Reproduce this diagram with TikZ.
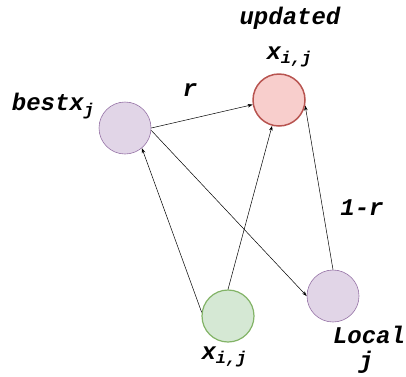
\documentclass[tikz,border=0pt]{standalone}
\usepackage{fontspec}
\setmonofont{Liberation Mono}
\usetikzlibrary{arrows.meta}
\definecolor{pfill}{HTML}{E1D5E7}
\definecolor{pdraw}{HTML}{9673A6}
\definecolor{rfill}{HTML}{F8CECC}
\definecolor{rdraw}{HTML}{B85450}
\definecolor{gfill}{HTML}{D5E8D4}
\definecolor{gdraw}{HTML}{82B366}
\newcommand{\lbl}{\fontsize{24}{27}\selectfont\ttfamily\bfseries\itshape}
\newcommand{\sbs}[1]{\raisebox{-0.35ex}{\fontsize{17}{20}\selectfont #1}}
\tikzset{
  circ/.style={circle, minimum size=52pt, inner sep=0pt},
  purp/.style={circ, fill=pfill, draw=pdraw, line width=0.6pt},
  redc/.style={circ, fill=rfill, draw=rdraw, line width=1.5pt},
  grn/.style={circ, fill=gfill, draw=gdraw, line width=1.2pt},
  txt/.style={inner sep=0pt, font=\lbl},
  conn/.style={-{Stealth[length=5pt,width=3.5pt]}, line width=0.5pt, black}
}
\begin{document}
\begin{tikzpicture}[x=1pt,y=-1pt]
\useasboundingbox (0,0) rectangle (406,376);
\node[purp] (best) at (125,128) {};
\node[redc] (upd) at (279,100) {};
\node[grn] (xij) at (228,316) {};
\node[purp] (loc) at (333,296) {};
\node[txt] (tbest) at (53,106) {bestx\sbs{j}};
\node[txt] (tupd) at (290,18) {updated};
\node[txt] (tx1) at (289,57) {x\sbs{i,j}};
\node[txt] (tr) at (190,90) {r};
\node[txt] (t1r) at (362,208) {1-r};
\node[txt] (tx2) at (224,357) {x\sbs{i,j}};
\node[txt] (tloc) at (369,335) {Local};
\node[txt] (tj) at (366,362) {j};
\draw[conn] (best.0) -- (upd.190);
\draw[conn] (xij.172) -- (best.-50);
\draw[conn] (xij.north) -- (upd.-105);
\draw[conn] (best.-5) -- (loc.180);
\draw[conn] (loc.north) -- (upd.-12);
\end{tikzpicture}
\end{document}
